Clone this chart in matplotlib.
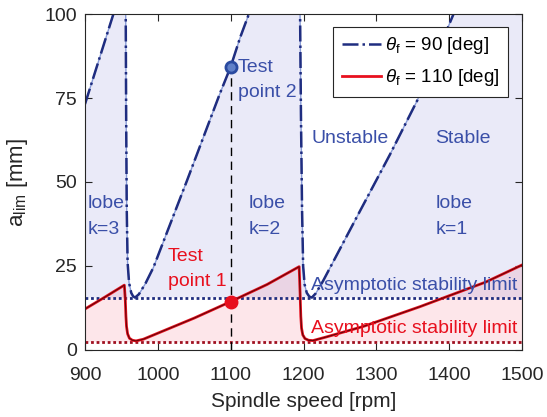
import matplotlib
matplotlib.use('Agg')
import matplotlib.pyplot as plt
import numpy as np
from matplotlib.lines import Line2D

plt.rcParams['font.family'] = ['Liberation Sans', 'DejaVu Sans']
plt.rcParams['mathtext.fontset'] = 'custom'
plt.rcParams['mathtext.rm'] = 'Liberation Sans'
plt.rcParams['mathtext.it'] = 'Liberation Sans:italic'

# lobe curve theta_f = 90 deg (values above 100 are off the chart)
rpm_90 = [900, 939, 955.5, 955.9, 956.5, 957.3, 958.5, 960.5, 963.5, 966, 968.7, 974, 983, 994,
          1040, 1085, 1100, 1113, 1125, 1160, 1195, 1195.3, 1196.5, 1198, 1199.5, 1201.5, 1204.5,
          1208, 1211.5, 1217, 1227, 1273, 1319, 1356, 1406, 1500]
alim_90 = [73.2, 100, 111, 100, 70, 42, 26, 20, 17, 16, 15.6, 16.6, 19.8, 24.6,
           50.4, 76.2, 84.3, 93, 100, 121, 140, 100, 70, 42, 25, 19.5, 17,
           15.9, 15.6, 16.9, 20.6, 39.5, 58.3, 74.2, 100, 150]

# lobe curve theta_f = 110 deg
rpm_110 = [900, 927, 954, 955.3, 956.2, 957, 958.5, 961, 965, 970, 980, 1000, 1050, 1100, 1150,
           1194, 1195.3, 1196.3, 1197.3, 1199, 1202, 1207, 1213, 1230, 1282, 1360, 1392, 1450, 1500]
alim_110 = [12.2, 15.7, 19.3, 15, 10, 7, 4.8, 3.5, 2.9, 2.7, 3.2, 5.0, 9.5, 14.4, 19.5,
            24.8, 17, 10, 6.5, 4.5, 3.4, 2.9, 2.8, 3.8, 7.0, 12.9, 15.5, 20.2, 25.3]

asym_90 = 15.6
asym_110 = 2.5
test_rpm = 1100
test1 = 14.4
test2 = 84.3

navy = '#1f2d80'
blue_txt = '#3a4fa8'
red = '#e8101e'
dark_red = '#a01020'

fig = plt.figure(figsize=(5.47, 4.17), dpi=100)
ax = fig.add_axes([0.1554, 0.1607, 0.7989, 0.8057])

x90 = np.array(rpm_90); y90 = np.array(alim_90)
x110 = np.array(rpm_110); y110 = np.array(alim_110)

# stable regions
ax.fill_between(x90, asym_90, y90, color='#5a5ac8', alpha=0.12, lw=0)
ax.fill_between(x110, asym_110, y110, color='#f04060', alpha=0.13, lw=0)

# asymptotic limits
ax.axhline(asym_90, color=navy, lw=2, ls=(0, (1, 1)))
ax.axhline(asym_110, color=dark_red, lw=2, ls=(0, (1, 1)))

# test point line
ax.plot([test_rpm, test_rpm], [0, test2], color='k', lw=1, ls=(0, (6, 4)))

# curves
ax.plot(x90, y90, color='#4060c0', lw=1, alpha=0.6)
ax.plot(x90, y90, color=navy, lw=1.8, ls='-.')
ax.plot(x110, y110, color=red, lw=2)
ax.plot(x110, y110, color='#300000', lw=0.8, alpha=0.7)

ax.plot(test_rpm, test2, 'o', ms=8, mfc='#6080c8', mec='#2a4aa0', mew=2)
ax.plot(test_rpm, test1, 'o', ms=9, color=red)

fs = 14
ax.text(1110, 84, 'Test', color=blue_txt, fontsize=fs, va='center')
ax.text(1110, 76.5, 'point 2', color=blue_txt, fontsize=fs, va='center')
ax.text(1014, 27.8, 'Test', color=red, fontsize=fs, va='center')
ax.text(1014, 20.3, 'point 1', color=red, fontsize=fs, va='center')
for x0, k in [(903, 3), (1125, 2), (1381, 1)]:
    ax.text(x0, 43.5, 'lobe', color=blue_txt, fontsize=fs, va='center')
    ax.text(x0, 36, 'k=%d' % k, color=blue_txt, fontsize=fs, va='center')
ax.text(1211, 62.8, 'Unstable', color=blue_txt, fontsize=fs, va='center')
ax.text(1381, 62.8, 'Stable', color=blue_txt, fontsize=fs, va='center')
ax.text(1494, 19.3, 'Asymptotic stability limit', color=blue_txt, fontsize=fs, va='center', ha='right')
ax.text(1494, 6.5, 'Asymptotic stability limit', color=red, fontsize=fs, va='center', ha='right')

ax.set_xlim(900, 1500)
ax.set_ylim(0, 100)
ax.set_xticks([900, 1000, 1100, 1200, 1300, 1400, 1500])
ax.set_yticks([0, 25, 50, 75, 100])
ax.tick_params(direction='in', top=True, right=True, labelsize=14, colors='#262626', length=5)
ax.tick_params(axis='x', pad=12)
ax.tick_params(axis='y', pad=6)
for s in ax.spines.values():
    s.set_color('#262626')
ax.set_xlabel('Spindle speed [rpm]', fontsize=15, color='#262626', labelpad=6)
ax.set_ylabel(r'a$_{\mathrm{lim}}$ [mm]', fontsize=16, color='#262626', labelpad=10)

handles = [Line2D([], [], color=navy, lw=1.8, ls='-.'),
           Line2D([], [], color=red, lw=2)]
labels = [r'$\theta_{\mathrm{f}}$ = 90 [deg]', r'$\theta_{\mathrm{f}}$ = 110 [deg]']
leg = ax.legend(handles, labels, loc='upper right', bbox_to_anchor=(0.968, 0.962), borderaxespad=0,
                fontsize=13.5, fancybox=False, framealpha=1, edgecolor='#262626', handlelength=2.1,
                handletextpad=0.2, borderpad=0.45, labelspacing=0.6)
leg.get_frame().set_linewidth(0.8)

fig.savefig('out.png', dpi=100)
